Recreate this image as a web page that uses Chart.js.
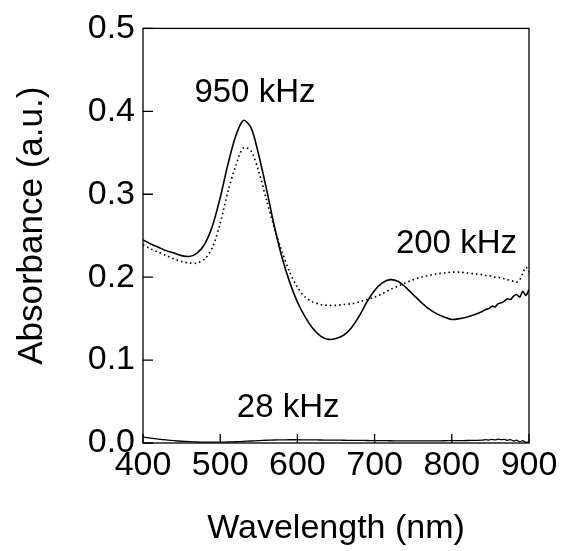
<!DOCTYPE html>
<html>
<head>
<meta charset="utf-8">
<script src="https://cdn.jsdelivr.net/npm/chart.js@4.4.1/dist/chart.umd.min.js"></script>
<style>
  html, body { margin: 0; padding: 0; background: #fff; }
  #wrap { width: 566px; height: 551px; }
</style>
</head>
<body>
<div id="wrap"><canvas id="absChart" width="566" height="551"></canvas></div>
<script>
// Wavelength grid (nm)
const wavelength = [
  400, 410, 420, 430, 440, 450, 460, 470, 480, 490,
  500, 510, 520, 530, 540, 550, 560, 570, 580, 590,
  600, 610, 620, 630, 640, 650, 660, 670, 680, 690,
  700, 710, 720, 730, 740, 750, 760, 770, 780, 790,
  800, 810, 820, 830, 840,
  844, 848, 852, 856, 860, 864, 868, 872, 876, 880, 884, 888, 892, 896, 900
];

// 950 kHz (solid)
const abs950 = [
  0.245, 0.240, 0.236, 0.232, 0.229, 0.226, 0.225, 0.229, 0.240, 0.262,
  0.296, 0.336, 0.370, 0.389, 0.380, 0.347, 0.306, 0.262, 0.224, 0.194,
  0.170, 0.152, 0.138, 0.129, 0.125, 0.126, 0.130, 0.139, 0.153, 0.170,
  0.184, 0.193, 0.197, 0.195, 0.188, 0.179, 0.170, 0.162, 0.156, 0.152,
  0.149, 0.150, 0.152, 0.155, 0.159,
  0.161, 0.162, 0.165, 0.164, 0.168, 0.169, 0.171, 0.174, 0.173, 0.177, 0.179, 0.176, 0.183, 0.178, 0.185
];

// 200 kHz (dotted)
const abs200 = [
  0.239, 0.234, 0.230, 0.226, 0.222, 0.219, 0.217, 0.217, 0.222, 0.236,
  0.265, 0.303, 0.334, 0.356, 0.352, 0.327, 0.293, 0.260, 0.231, 0.206,
  0.188, 0.176, 0.170, 0.167, 0.166, 0.166, 0.167, 0.168, 0.170, 0.173,
  0.176, 0.180, 0.185, 0.189, 0.193, 0.197, 0.200, 0.202, 0.204, 0.205,
  0.206, 0.206, 0.205, 0.204, 0.203,
  0.202, 0.202, 0.201, 0.200, 0.200, 0.199, 0.198, 0.197, 0.196, 0.195, 0.194, 0.197, 0.205, 0.212, 0.206
];

// 28 kHz (solid, near zero)
const abs28 = [
  0.0070, 0.0058, 0.0047, 0.0037, 0.0028, 0.0021, 0.0016, 0.0012, 0.0010, 0.0010,
  0.0010, 0.0012, 0.0015, 0.0019, 0.0024, 0.0029, 0.0033, 0.0036, 0.0038, 0.0039,
  0.0039, 0.0038, 0.0037, 0.0036, 0.0035, 0.0034, 0.0033, 0.0032, 0.0031, 0.0030,
  0.0029, 0.0028, 0.0027, 0.0026, 0.0025, 0.0025, 0.0025, 0.0025, 0.0026, 0.0027,
  0.0028, 0.0029, 0.0030, 0.0032, 0.0034,
  0.0040, 0.0035, 0.0044, 0.0038, 0.0046, 0.0040, 0.0043, 0.0032, 0.0041, 0.0024, 0.0034, 0.0014, 0.0028, 0.0006, 0.0016
];

// Axis ticks
const xTicks = [400, 500, 600, 700, 800, 900];
const yTicks = [0.0, 0.1, 0.2, 0.3, 0.4, 0.5];

// Curve labels: [text, wavelength, absorbance]
const curveLabels = [
  ['950 kHz', 545, 0.422],
  ['200 kHz', 806, 0.240],
  ['28 kHz', 588, 0.042]
];

const FONT = '"Liberation Sans", Arial, sans-serif';

function toPoints(ys) {
  return wavelength.map((x, i) => ({ x: x, y: ys[i] }));
}

// frame, inward ticks, curve labels and y title
const framePlugin = {
  id: 'frame',
  afterDraw(chart) {
    const ctx = chart.ctx;
    const a = chart.chartArea;
    const xs = chart.scales.x, ys = chart.scales.y;
    ctx.save();
    ctx.strokeStyle = '#000';
    ctx.lineWidth = 1.3;
    ctx.strokeRect(a.left, a.top, a.right - a.left, a.bottom - a.top);

    ctx.beginPath();
    xTicks.forEach(v => {
      const px = xs.getPixelForValue(v);
      ctx.moveTo(px, a.bottom);
      ctx.lineTo(px, a.bottom - 9);
    });
    yTicks.forEach(v => {
      const py = ys.getPixelForValue(v);
      ctx.moveTo(a.left, py);
      ctx.lineTo(a.left + 10, py);
    });
    ctx.stroke();

    ctx.fillStyle = '#000';
    ctx.font = '33px ' + FONT;
    ctx.textAlign = 'center';
    ctx.textBaseline = 'middle';
    curveLabels.forEach(l => {
      ctx.fillText(l[0], xs.getPixelForValue(l[1]), ys.getPixelForValue(l[2]));
    });

    // y axis title, a bit above the plot centre as in the original
    ctx.translate(32, ys.getPixelForValue(0.262));
    ctx.rotate(-Math.PI / 2);
    ctx.font = '35px ' + FONT;
    ctx.fillText('Absorbance (a.u.)', 0, 0);
    ctx.restore();
  }
};

const ctx = document.getElementById('absChart').getContext('2d');
new Chart(ctx, {
  type: 'line',
  data: {
    datasets: [
      {
        label: '950 kHz',
        data: toPoints(abs950),
        borderColor: '#000',
        borderWidth: 1.6,
        pointRadius: 0,
        tension: 0.3
      },
      {
        label: '200 kHz',
        data: toPoints(abs200),
        borderColor: '#000',
        borderWidth: 1.6,
        borderDash: [1.6, 3],
        pointRadius: 0,
        tension: 0.3
      },
      {
        label: '28 kHz',
        data: toPoints(abs28),
        borderColor: '#000',
        borderWidth: 1.3,
        pointRadius: 0,
        tension: 0.2
      }
    ]
  },
  options: {
    responsive: false,
    animation: false,
    layout: { padding: { top: 28, right: 37, bottom: 0, left: 0 } },
    plugins: {
      legend: { display: false },
      tooltip: { enabled: false }
    },
    scales: {
      x: {
        type: 'linear',
        min: 400,
        max: 900,
        afterBuildTicks: s => { s.ticks = xTicks.map(v => ({ value: v })); },
        afterFit: s => { s.height = 108; },
        grid: { display: false, drawTicks: false },
        border: { display: false },
        ticks: {
          color: '#000',
          font: { family: FONT, size: 34 },
          padding: 2,
          maxRotation: 0,
          autoSkip: false
        },
        title: {
          display: true,
          text: 'Wavelength (nm)',
          color: '#000',
          font: { family: FONT, size: 34 },
          padding: { top: 0, bottom: 2 }
        }
      },
      y: {
        min: 0,
        max: 0.5,
        afterBuildTicks: s => { s.ticks = yTicks.map(v => ({ value: v })); },
        afterFit: s => { s.width = 143; },
        grid: { display: false, drawTicks: false },
        border: { display: false },
        ticks: {
          color: '#000',
          font: { family: FONT, size: 34 },
          padding: 8,
          callback: v => v.toFixed(1)
        },
        title: { display: false }
      }
    }
  },
  plugins: [framePlugin]
});
</script>
</body>
</html>
